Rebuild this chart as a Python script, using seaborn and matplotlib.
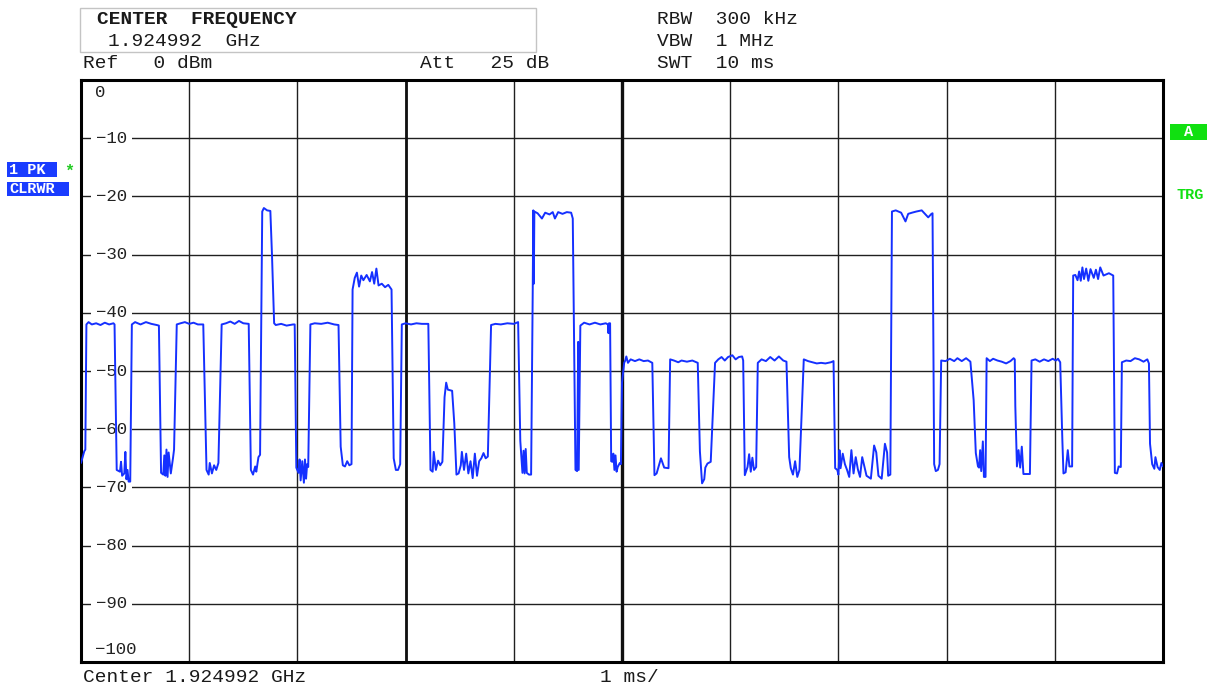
import numpy as np
import matplotlib
matplotlib.use("Agg")
import matplotlib.pyplot as plt
from matplotlib.patches import Rectangle
import seaborn as sns

# zero-span trace, time in ms, level in dBm
trace_ms = [
    0.00, 0.03, 0.04, 0.05, 0.07, 0.10, 0.14, 0.18, 0.22, 0.26, 0.30, 0.31,
    0.33, 0.36, 0.37, 0.38, 0.40, 0.41, 0.42, 0.43, 0.44, 0.455,
    0.47, 0.50, 0.55, 0.60, 0.65, 0.70, 0.72,
    0.74, 0.76, 0.77, 0.78, 0.79, 0.80, 0.81, 0.83, 0.85, 0.86,
    0.885, 0.92, 0.96, 1.00, 1.04, 1.08, 1.13,
    1.16, 1.18, 1.19, 1.21, 1.23, 1.25, 1.27,
    1.30, 1.34, 1.38, 1.42, 1.46, 1.50, 1.55,
    1.57, 1.59, 1.61, 1.62, 1.64, 1.655,
    1.675, 1.69, 1.72, 1.75, 1.765, 1.785, 1.80, 1.85, 1.90, 1.96, 1.975,
    1.99, 2.01, 2.02, 2.03, 2.045, 2.06, 2.07, 2.08, 2.09, 2.10,
    2.12, 2.16, 2.22, 2.28, 2.34, 2.38,
    2.40, 2.42, 2.44, 2.46, 2.48, 2.50,
    2.51, 2.53, 2.55, 2.57, 2.59, 2.61, 2.64, 2.67, 2.69, 2.71, 2.73, 2.75,
    2.78, 2.81, 2.84, 2.87,
    2.89, 2.91, 2.93, 2.95,
    2.965, 3.00, 3.05, 3.10, 3.15, 3.21,
    3.23, 3.25, 3.26, 3.28, 3.30, 3.32, 3.34,
    3.36, 3.375, 3.39, 3.43, 3.45, 3.47, 3.49, 3.51,
    3.52, 3.54, 3.56, 3.58, 3.60, 3.62, 3.64, 3.66, 3.68, 3.70, 3.72, 3.74, 3.76,
    3.78, 3.79, 3.83, 3.88, 3.94, 4.00, 4.04,
    4.06, 4.08, 4.09, 4.10, 4.11, 4.12, 4.14, 4.16,
    4.175, 4.18, 4.185, 4.19, 4.22, 4.26, 4.29, 4.33, 4.36, 4.38, 4.41, 4.45,
    4.49, 4.53, 4.545,
    4.57, 4.585, 4.595, 4.60, 4.615,
    4.65, 4.70, 4.75, 4.80, 4.85, 4.87, 4.875, 4.88, 4.89,
    4.90, 4.91, 4.92, 4.93, 4.94, 4.95, 4.96, 4.98, 4.99,
    5.00, 5.02,
    5.03, 5.04, 5.055, 5.08, 5.12, 5.16, 5.20, 5.24, 5.28,
    5.30, 5.32, 5.36, 5.39, 5.43,
    5.445, 5.48, 5.52, 5.55, 5.60, 5.65, 5.70,
    5.72, 5.74, 5.76, 5.77, 5.79, 5.82, 5.84, 5.86,
    5.89, 5.92, 5.95, 5.98, 6.02, 6.05, 6.08, 6.11, 6.12,
    6.135, 6.16, 6.175, 6.19, 6.205, 6.22, 6.24,
    6.255, 6.29, 6.33, 6.37, 6.41, 6.45, 6.49, 6.52,
    6.545, 6.56, 6.58, 6.60, 6.62, 6.64, 6.665, 6.68,
    6.72, 6.76, 6.80, 6.84, 6.88, 6.93, 6.955,
    6.97, 6.99, 7.00, 7.01, 7.02, 7.04, 7.06, 7.08, 7.10, 7.12, 7.14, 7.16,
    7.18, 7.20, 7.22, 7.26, 7.30, 7.33, 7.35, 7.37, 7.40, 7.43, 7.45, 7.46, 7.48,
    7.495, 7.53, 7.58, 7.62, 7.645, 7.68, 7.72, 7.77, 7.80, 7.83, 7.86, 7.87,
    7.885, 7.90, 7.92, 7.935, 7.95,
    7.99, 8.03, 8.07, 8.10, 8.14, 8.18, 8.22,
    8.25, 8.27, 8.29, 8.30, 8.31, 8.32, 8.335, 8.345, 8.36, 8.37,
    8.40, 8.43, 8.47, 8.51, 8.55, 8.59, 8.62, 8.63,
    8.635, 8.65, 8.665, 8.68, 8.695, 8.71, 8.77, 8.785,
    8.82, 8.86, 8.90, 8.94, 8.98, 9.01, 9.03, 9.05,
    9.07, 9.08, 9.10, 9.12, 9.135, 9.16,
    9.17, 9.19, 9.21, 9.225, 9.24, 9.255, 9.27, 9.29, 9.31, 9.33, 9.36, 9.38,
    9.40, 9.42, 9.45, 9.50, 9.54,
    9.555, 9.575, 9.59, 9.61, 9.62,
    9.66, 9.70, 9.74, 9.78, 9.82, 9.855, 9.87,
    9.88, 9.90, 9.92, 9.93, 9.95, 9.97, 9.985, 10.0,
]
trace_dbm = [
    -65.8, -63.8, -63.5, -42.0, -41.6, -42.0, -41.8, -42.1, -41.7, -42.0, -41.8, -42.0,
    -67.0, -67.3, -65.6, -68.0, -67.6, -63.9, -68.6, -67.0, -69.0, -69.0,
    -42.0, -41.6, -42.0, -41.6, -41.9, -42.1, -42.2,
    -67.5, -67.8, -64.5, -68.0, -63.5, -68.2, -64.0, -67.6, -65.0, -63.5,
    -42.0, -41.8, -41.6, -41.9, -41.7, -42.0, -42.0,
    -67.0, -67.8, -65.8, -67.6, -66.2, -67.0, -65.8,
    -42.0, -41.8, -41.5, -41.9, -41.4, -41.8, -41.9,
    -67.0, -67.8, -66.4, -67.3, -64.8, -64.4,
    -22.6, -22.0, -22.4, -22.5, -30.0, -41.8, -42.1, -41.9, -42.2, -42.0, -42.0,
    -66.6, -67.5, -65.2, -68.8, -65.5, -69.2, -65.2, -68.5, -66.0, -66.5,
    -42.0, -41.8, -41.9, -41.7, -42.0, -42.1,
    -63.0, -66.2, -66.4, -65.5, -66.2, -66.0,
    -36.0, -34.0, -33.1, -35.5, -33.6, -34.4, -33.5, -34.6, -33.0, -35.0, -32.4, -35.3,
    -35.0, -35.6, -35.2, -36.0,
    -65.0, -67.0, -67.0, -66.0,
    -42.0, -41.8, -42.0, -41.8, -41.9, -41.9,
    -67.0, -67.3, -63.9, -67.0, -65.4, -66.2, -65.6,
    -54.5, -52.0, -53.2, -53.4, -59.0, -67.8, -67.6, -66.2,
    -63.9, -67.0, -64.2, -67.6, -65.5, -68.4, -64.2, -68.0, -65.5, -65.0, -64.1, -65.0, -64.7,
    -50.0, -42.1, -41.9, -42.0, -41.8, -41.9, -41.6,
    -62.0, -67.5, -63.7, -67.6, -63.4, -67.5, -67.8, -67.8,
    -36.0, -22.4, -35.0, -22.6, -22.9, -23.8, -22.8, -23.1, -22.7, -23.8, -22.7, -23.0,
    -22.7, -22.8, -23.8,
    -67.0, -67.2, -45.0, -67.0, -42.2,
    -41.7, -42.0, -41.7, -42.0, -41.8, -42.0, -43.5, -41.8, -41.8,
    -65.5, -65.6, -64.2, -67.0, -64.5, -67.3, -66.5, -65.8, -66.0,
    -52.0, -48.6,
    -48.2, -47.5, -48.6, -48.0, -48.3, -48.0, -48.3, -48.2, -48.6,
    -67.9, -67.6, -65.0, -66.6, -66.7,
    -48.0, -48.2, -48.5, -48.2, -48.4, -48.2, -48.6,
    -63.8, -69.3, -68.6, -66.6, -65.9, -65.6, -57.0, -48.6,
    -48.0, -47.6, -48.2, -47.6, -47.3, -48.0, -47.6, -47.5, -48.2,
    -67.9, -66.5, -64.3, -67.3, -64.9, -67.0, -66.5,
    -48.6, -48.0, -48.3, -47.6, -48.2, -47.5, -48.2, -48.4,
    -64.8, -66.7, -67.8, -65.5, -68.2, -67.0, -55.0, -48.0,
    -48.3, -48.5, -48.7, -48.6, -48.7, -48.5, -48.3,
    -66.7, -67.0, -67.8, -63.6, -66.7, -64.2, -66.0, -67.0, -68.2, -63.6, -67.6, -64.8,
    -66.9, -68.2, -64.8, -68.0, -68.5, -62.8, -64.0, -68.0, -68.5, -62.5, -64.0, -68.0, -67.8,
    -22.6, -22.4, -22.8, -24.3, -23.0, -22.8, -22.6, -22.4, -23.0, -23.6, -23.0, -22.9,
    -66.0, -67.2, -67.0, -66.0, -48.2,
    -48.3, -47.9, -48.3, -47.8, -48.3, -47.8, -48.4,
    -55.0, -64.1, -66.4, -66.6, -63.6, -67.2, -62.1, -68.2, -68.2, -47.8,
    -48.3, -47.9, -48.2, -48.4, -48.7, -48.3, -47.8, -48.0,
    -56.0, -66.4, -63.6, -66.6, -63.0, -67.7, -67.7, -48.2,
    -48.0, -48.4, -48.0, -48.3, -47.9, -48.2, -47.9, -48.5,
    -62.0, -67.6, -67.4, -63.6, -66.4, -66.4,
    -33.6, -33.5, -34.4, -32.9, -34.5, -32.2, -34.2, -32.4, -34.5, -32.5, -34.0, -32.6,
    -34.2, -32.2, -33.6, -33.2, -33.6,
    -67.5, -67.6, -66.4, -66.5, -48.5,
    -48.2, -48.3, -47.8, -48.0, -48.4, -48.0, -48.7,
    -62.5, -66.0, -66.8, -64.8, -66.5, -67.0, -65.8, -66.4,
]

level_labels = ["0", "−10", "−20", "−30", "−40", "−50", "−60", "−70", "−80", "−90", "−100"]
level_values = [0, -10, -20, -30, -40, -50, -60, -70, -80, -90, -100]

W, H = 1213, 686
sns.set_theme(style="white")
plt.rcParams["font.family"] = ["Liberation Mono", "DejaVu Sans"]

fig = plt.figure(figsize=(W / 100, H / 100), dpi=100)
fig.patch.set_facecolor("white")
ax = fig.add_axes([81 / W, 1 - 662 / H, (1163 - 81) / W, (662 - 80) / H])
ax.set_facecolor("white")

sns.lineplot(x=trace_ms, y=trace_dbm, ax=ax, color="#1530ff", linewidth=1.4,
             estimator=None, sort=False, zorder=3)

ax.set_xlim(0, 10)
ax.set_ylim(-100, 0)
ax.set_xticks(np.arange(0, 11, 1))
ax.set_yticks(level_values)
ax.grid(True, color="#202020", linewidth=1.0)
ax.axvline(3, color="#101010", linewidth=2.0, zorder=1)
ax.axvline(5, color="#101010", linewidth=2.4, zorder=1)
ax.tick_params(length=0, labelbottom=False, labelleft=False)
ax.set_xlabel("")
ax.set_ylabel("")
for sp in ax.spines.values():
    sp.set_color("black")
    sp.set_linewidth(2.2)

# level labels drawn inside the grid
for lab, v in zip(level_labels, level_values):
    if v == 0:
        ax.text(0.13, -2.2, lab, fontsize=12.5, color="#222222", va="center", ha="left")
    elif v == -100:
        ax.text(0.13, -97.9, lab, fontsize=12.5, color="#222222", va="center", ha="left")
    else:
        ax.text(0.14, v, lab, fontsize=12.5, color="#222222", va="center", ha="left",
                zorder=1.8,
                bbox=dict(boxstyle="square,pad=0.3", fc="white", ec="none"))


def fx(x):
    return x / W


def fy(y):
    return 1 - y / H


# header box
fig.patches.append(Rectangle((fx(80), fy(52)), (536 - 80) / W, (52 - 8) / H,
                             transform=fig.transFigure, fill=False,
                             ec="#c4c4c4", lw=1.0))
fs = 14
tc = "#1a1a1a"
fig.text(fx(97), fy(20), "CENTER  FREQUENCY", fontsize=14, fontweight="bold",
         va="center", color=tc)
fig.text(fx(108), fy(42), "1.924992  GHz", fontsize=fs, va="center", color=tc)
fig.text(fx(83), fy(63), "Ref   0 dBm", fontsize=fs, va="center", color=tc)
fig.text(fx(420), fy(63), "Att   25 dB", fontsize=fs, va="center", color=tc)
fig.text(fx(657), fy(20), "RBW  300 kHz", fontsize=fs, va="center", color=tc)
fig.text(fx(657), fy(42), "VBW  1 MHz", fontsize=fs, va="center", color=tc)
fig.text(fx(657), fy(63), "SWT  10 ms", fontsize=fs, va="center", color=tc)
fig.text(fx(83), fy(677), "Center 1.924992 GHz", fontsize=fs, va="center", color=tc)
fig.text(fx(600), fy(677), "1 ms/", fontsize=fs, va="center", color=tc)

# trace info on the left
blue = "#1a3cff"
fig.patches.append(Rectangle((fx(7), fy(177)), 50 / W, 15 / H,
                             transform=fig.transFigure, fc=blue, ec="none"))
fig.patches.append(Rectangle((fx(7), fy(196)), 62 / W, 14 / H,
                             transform=fig.transFigure, fc=blue, ec="none"))
fig.text(fx(9), fy(169.5), "1 PK", fontsize=11, fontweight="bold", color="white", va="center")
fig.text(fx(9), fy(189), "CLRWR", fontsize=11, fontweight="bold", color="white", va="center")
fig.text(fx(69), fy(171), "*", fontsize=12, fontweight="bold", color="#22cc22",
         va="center", ha="center")

# right side markers
green = "#11e011"
fig.patches.append(Rectangle((fx(1170), fy(140)), 37 / W, 16 / H,
                             transform=fig.transFigure, fc=green, ec="none"))
fig.text(fx(1188.5), fy(132), "A", fontsize=11, fontweight="bold", color="white",
         va="center", ha="center")
fig.text(fx(1190), fy(195), "TRG", fontsize=11, fontweight="bold", color=green,
         va="center", ha="center")

fig.savefig("out.png", dpi=100)
